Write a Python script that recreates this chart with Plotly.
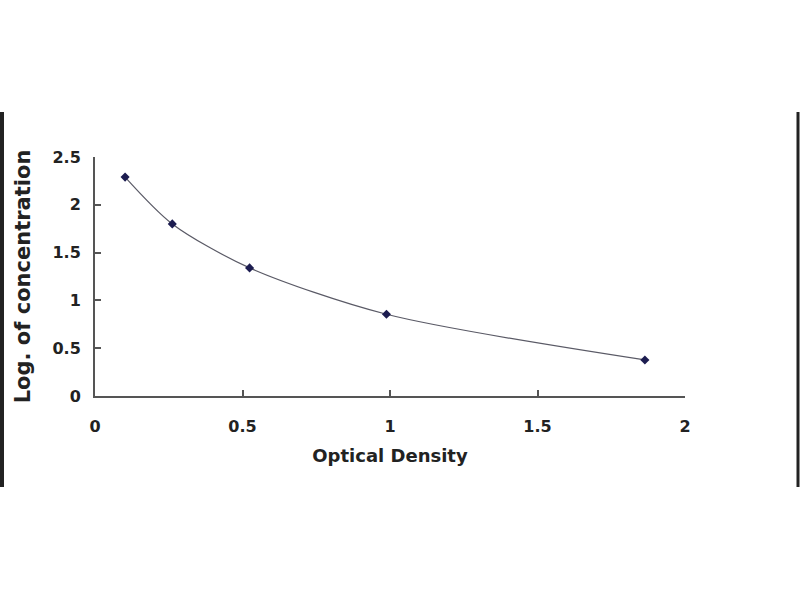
import plotly.graph_objects as go

optical_density = [0.102, 0.262, 0.524, 0.988, 1.864]
log_concentration = [2.29, 1.80, 1.34, 0.855, 0.377]

x_ticks = [0, 0.5, 1, 1.5, 2]
x_tick_labels = ["0", "0.5", "1", "1.5", "2"]
y_ticks = [0, 0.5, 1, 1.5, 2, 2.5]
y_tick_labels = ["0", "0.5", "1", "1.5", "2", "2.5"]

fig = go.Figure()
fig.add_trace(go.Scatter(
    x=optical_density, y=log_concentration,
    mode="lines+markers",
    line=dict(color="#5a5a66", width=1.2, shape="spline", smoothing=0.8),
    marker=dict(symbol="diamond", size=7, color="#1c1c50"),
    showlegend=False,
))

font_family = "DejaVu Sans, Verdana, sans-serif"
fig.update_layout(
    width=800, height=600,
    margin=dict(l=95, r=115, t=157, b=204),
    paper_bgcolor="white", plot_bgcolor="white",
    font=dict(family=font_family, color="#222222"),
)
fig.update_xaxes(
    range=[0, 2], tickvals=x_ticks, ticktext=x_tick_labels,
    showgrid=False, zeroline=False, showline=True, linecolor="#555555", linewidth=2,
    ticks="inside", ticklen=6, tickwidth=2, tickcolor="#555555",
    ticklabelstandoff=15,
    tickfont=dict(size=16, family=font_family, weight="bold", color="#222222"),
    title=dict(text="Optical Density", font=dict(size=18, family=font_family, weight="bold", color="#222222"), standoff=14),
)
fig.update_yaxes(
    range=[0, 2.5], tickvals=y_ticks, ticktext=y_tick_labels,
    showgrid=False, zeroline=False, showline=True, linecolor="#555555", linewidth=2,
    ticks="inside", ticklen=6, tickwidth=2, tickcolor="#555555",
    ticklabelstandoff=9,
    tickfont=dict(size=16, family=font_family, weight="bold", color="#222222"),
    title=dict(text="Log. of concentration", font=dict(size=21, family=font_family, weight="bold", color="#222222"), standoff=16),
)

# frame edges of the original image
fig.add_shape(type="line", xref="paper", yref="paper",
              x0=(2 - 95) / 590, x1=(2 - 95) / 590, y0=(396 - 112) / 239, y1=(396 - 487) / 239,
              line=dict(color="#222222", width=4))
fig.add_shape(type="line", xref="paper", yref="paper",
              x0=(798 - 95) / 590, x1=(798 - 95) / 590, y0=(396 - 112) / 239, y1=(396 - 487) / 239,
              line=dict(color="#222222", width=3))

fig.write_html("out.html", config={"displayModeBar": False},
               post_script="document.body.style.margin='0';")
